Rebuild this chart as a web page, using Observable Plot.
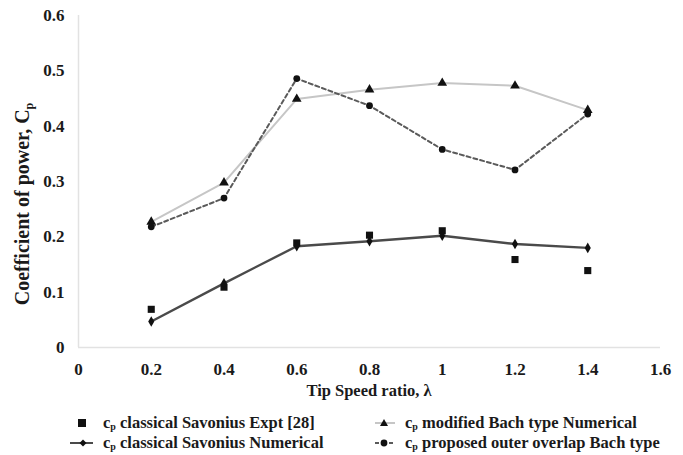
<!DOCTYPE html>
<html>
<head>
<meta charset="utf-8">
<script src="https://cdn.jsdelivr.net/npm/d3@7"></script>
<script src="https://cdn.jsdelivr.net/npm/@observablehq/plot@0.6"></script>
<style>
  body { margin: 0; background: #fff; font-family: "Liberation Serif", "Times New Roman", serif; font-weight: bold; }
  #wrap { position: relative; width: 683px; height: 455px; }
  .sw { position: absolute; }
  .lt { position: absolute; font-size: 16.5px; color: #1a1a1a; white-space: nowrap; line-height: 18px; }
  sub { font-size: 10px; vertical-align: -2px; line-height: 0; }
</style>
</head>
<body>
<div id="wrap"></div>
<script>
const tsr = [0.2, 0.4, 0.6, 0.8, 1.0, 1.2, 1.4];
const expt = [0.069, 0.109, 0.189, 0.203, 0.211, 0.159, 0.139];
const classicalNum = [0.047, 0.116, 0.183, 0.192, 0.202, 0.187, 0.180];
const modifiedBach = [0.227, 0.298, 0.449, 0.466, 0.478, 0.473, 0.429];
const proposedBach = [0.218, 0.270, 0.486, 0.437, 0.358, 0.321, 0.422];
const xTicks = [0, 0.2, 0.4, 0.6, 0.8, 1, 1.2, 1.4, 1.6];
const xTickLabels = ["0", "0.2", "0.4", "0.6", "0.8", "1", "1.2", "1.4", "1.6"];
const yTicks = [0, 0.1, 0.2, 0.3, 0.4, 0.5, 0.6];
const yTickLabels = ["0", "0.1", "0.2", "0.3", "0.4", "0.5", "0.6"];

const rows = (ys) => tsr.map((x, i) => ({x, y: ys[i]}));
const dExpt = rows(expt), dNum = rows(classicalNum), dMod = rows(modifiedBach), dProp = rows(proposedBach);

const fontCss = "font-family:'Liberation Serif','Times New Roman',serif;font-weight:bold;color:#1a1a1a;";

const chart = Plot.plot({
  width: 683,
  height: 400,
  marginLeft: 78,
  marginRight: 23,
  marginTop: 15,
  marginBottom: 53,
  style: fontCss + "background:#fff;",
  x: {domain: [0, 1.6], ticks: xTicks, tickFormat: (d) => xTickLabels[xTicks.indexOf(d)], tickSize: 0, tickPadding: 15, label: null},
  y: {domain: [0, 0.6], ticks: yTicks, tickFormat: (d) => yTickLabels[yTicks.indexOf(d)], tickSize: 0, tickPadding: 14, label: null},
  marks: [
    Plot.ruleX([0], {stroke: "#e2e2e2", strokeWidth: 1.5}),
    Plot.ruleY([0], {stroke: "#e2e2e2", strokeWidth: 1.5}),
    Plot.line(dMod, {x: "x", y: "y", stroke: "#c6c6c6", strokeWidth: 2}),
    Plot.line(dProp, {x: "x", y: "y", stroke: "#5a5a5a", strokeWidth: 2, strokeDasharray: "4,3"}),
    Plot.line(dNum, {x: "x", y: "y", stroke: "#4a4a4a", strokeWidth: 2.4}),
    Plot.dot(dExpt, {x: "x", y: "y", symbol: "square", r: 4, fill: "#111", stroke: "none"}),
    Plot.dot(dNum, {x: "x", y: "y", symbol: "diamond", r: 3.2, fill: "#111", stroke: "none"}),
    Plot.dot(dMod, {x: "x", y: "y", symbol: "triangle", r: 3.6, fill: "#111", stroke: "none"}),
    Plot.dot(dProp, {x: "x", y: "y", symbol: "circle", r: 3.4, fill: "#111", stroke: "none"})
  ]
});

const svg = d3.select(chart);
// enlarge every tick label (all text in the plot at this point is tick labels)
svg.selectAll("text")
  .style("font-size", "17px")
  .style("font-weight", "bold")
  .style("font-family", "'Liberation Serif','Times New Roman',serif")
  .attr("fill", "#1a1a1a");

// Axis titles
svg.append("text")
  .attr("x", (78 + 660) / 2).attr("y", 396)
  .attr("text-anchor", "middle")
  .style("font-family", "'Liberation Serif','Times New Roman',serif")
  .style("font-weight", "bold").style("font-size", "16.5px").attr("fill", "#1a1a1a")
  .text("Tip Speed ratio, λ");

const yt = svg.append("text")
  .attr("transform", "translate(29,204) rotate(-90)")
  .attr("text-anchor", "middle")
  .style("font-family", "'Liberation Serif','Times New Roman',serif")
  .style("font-weight", "bold").style("font-size", "20px").attr("fill", "#1a1a1a");
yt.append("tspan").text("Coefficient of power, C");
yt.append("tspan").attr("dy", 4).style("font-size", "12px").text("p");

const wrap = document.getElementById("wrap");
wrap.appendChild(chart);

// Legend
const legendItems = [
  {sx: 76, tx: 103, top: 414, label: "classical Savonius Expt [28]", sw: '<rect x="2" y="5" width="8" height="8" fill="#111"/>'},
  {sx: 70, tx: 103, top: 434, label: "classical Savonius Numerical", sw: '<line x1="0" y1="9" x2="23" y2="9" stroke="#4a4a4a" stroke-width="2"/><path d="M13,5.5 L16.5,9 L13,12.5 L9.5,9 Z" fill="#111"/>'},
  {sx: 375, tx: 405, top: 414, label: "modified Bach type Numerical", sw: '<line x1="0" y1="9" x2="20" y2="9" stroke="#c6c6c6" stroke-width="2"/><path d="M9,5 L13,12 L5,12 Z" fill="#111"/>'},
  {sx: 375, tx: 405, top: 434, label: "proposed outer overlap Bach type", sw: '<line x1="0" y1="9" x2="20" y2="9" stroke="#5a5a5a" stroke-width="2" stroke-dasharray="4,3"/><circle cx="9" cy="9" r="3.4" fill="#111"/>'}
];
legendItems.forEach(it => {
  const s = document.createElement("div");
  s.className = "sw";
  s.style.left = it.sx + "px";
  s.style.top = it.top + "px";
  s.innerHTML = `<svg width="24" height="18" style="display:block">${it.sw}</svg>`;
  wrap.appendChild(s);
  const t = document.createElement("div");
  t.className = "lt";
  t.style.left = it.tx + "px";
  t.style.top = it.top + "px";
  t.innerHTML = `c<sub>p</sub> ${it.label}`;
  wrap.appendChild(t);
});
</script>
</body>
</html>
